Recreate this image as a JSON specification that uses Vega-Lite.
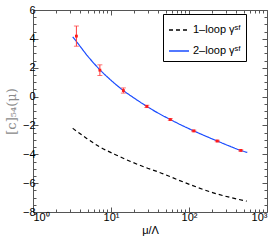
{
  "$schema": "https://vega.github.io/schema/vega-lite/v6.json",
  "width": 234,
  "height": 202,
  "autosize": {"type": "none"},
  "padding": {"left": 33, "top": 10, "right": 11, "bottom": 31},
  "background": "white",
  "config": {
    "view": {"stroke": "#555", "strokeWidth": 1},
    "font": "Liberation Sans",
    "axis": {"domain": false, "grid": false, "labelFont": "Liberation Sans", "labelFontSize": 11, "labelColor": "#000", "tickColor": "#555", "titleFontWeight": "normal"}
  },
  "datasets": {
    "curves": [
      {"series": "1–loop γˢᶠ", "mu": 3.23, "c": -2.20},
      {"series": "1–loop γˢᶠ", "mu": 4.88, "c": -2.90},
      {"series": "1–loop γˢᶠ", "mu": 7.23, "c": -3.50},
      {"series": "1–loop γˢᶠ", "mu": 11.25, "c": -4.01},
      {"series": "1–loop γˢᶠ", "mu": 17.5, "c": -4.48},
      {"series": "1–loop γˢᶠ", "mu": 27.3, "c": -4.90},
      {"series": "1–loop γˢᶠ", "mu": 41.6, "c": -5.25},
      {"series": "1–loop γˢᶠ", "mu": 84.5, "c": -5.92},
      {"series": "1–loop γˢᶠ", "mu": 205, "c": -6.67},
      {"series": "1–loop γˢᶠ", "mu": 550, "c": -7.25},
      {"series": "2–loop γˢᶠ", "mu": 3.23, "c": 4.14},
      {"series": "2–loop γˢᶠ", "mu": 3.6, "c": 3.82},
      {"series": "2–loop γˢᶠ", "mu": 5, "c": 2.82},
      {"series": "2–loop γˢᶠ", "mu": 7.2, "c": 1.86},
      {"series": "2–loop γˢᶠ", "mu": 10, "c": 1.13},
      {"series": "2–loop γˢᶠ", "mu": 14.4, "c": 0.42},
      {"series": "2–loop γˢᶠ", "mu": 20, "c": -0.12},
      {"series": "2–loop γˢᶠ", "mu": 28.8, "c": -0.68},
      {"series": "2–loop γˢᶠ", "mu": 40, "c": -1.14},
      {"series": "2–loop γˢᶠ", "mu": 57.6, "c": -1.59},
      {"series": "2–loop γˢᶠ", "mu": 80, "c": -1.98},
      {"series": "2–loop γˢᶠ", "mu": 115.2, "c": -2.38},
      {"series": "2–loop γˢᶠ", "mu": 160, "c": -2.72},
      {"series": "2–loop γˢᶠ", "mu": 230.4, "c": -3.08},
      {"series": "2–loop γˢᶠ", "mu": 320, "c": -3.40},
      {"series": "2–loop γˢᶠ", "mu": 460.8, "c": -3.73},
      {"series": "2–loop γˢᶠ", "mu": 559, "c": -3.87}
    ],
    "points": [
      {"mu": 3.6, "c": 4.19, "lo": 3.49, "hi": 4.89},
      {"mu": 7.2, "c": 1.83, "lo": 1.46, "hi": 2.20},
      {"mu": 14.4, "c": 0.42, "lo": 0.24, "hi": 0.60},
      {"mu": 28.8, "c": -0.68, "lo": -0.76, "hi": -0.60},
      {"mu": 57.6, "c": -1.59, "lo": -1.65, "hi": -1.53},
      {"mu": 115.2, "c": -2.38, "lo": -2.43, "hi": -2.33},
      {"mu": 230.4, "c": -3.08, "lo": -3.13, "hi": -3.03},
      {"mu": 460.8, "c": -3.73, "lo": -3.78, "hi": -3.68}
    ]
  },
  "resolve": {"axis": {"x": "independent", "y": "independent"}},
  "layer": [
    {
      "data": {"name": "curves"},
      "mark": {"type": "line", "interpolate": "monotone", "strokeWidth": 1.2},
      "encoding": {
        "x": {"field": "mu", "type": "quantitative", "scale": {"type": "log", "domain": [1, 1000], "nice": false},
              "axis": {"orient": "bottom", "values": [1, 10, 100, 1000], "tickSize": -5, "labelPadding": 4, "labelExpr": "'10' + ['⁰','¹','²','³'][round(log(datum.value)/LN10)]", "title": "μ/Λ", "titleFont": "Liberation Sans", "titleFontSize": 11, "titlePadding": 2, "titleColor": "#000"}},
        "y": {"field": "c", "type": "quantitative", "scale": {"domain": [-8, 6], "nice": false, "zero": false},
              "axis": {"orient": "left", "values": [-8, -6, -4, -2, 0, 2, 4, 6], "tickSize": -5, "labelPadding": 3, "title": "[c]₅₄(μ)", "titleFont": "DejaVu Serif", "titleFontSize": 13, "titleColor": "#8a8a8a", "titlePadding": 4}},
        "color": {"field": "series", "type": "nominal", "scale": {"domain": ["1–loop γˢᶠ", "2–loop γˢᶠ"], "range": ["#000000", "#1a4cff"]},
                  "legend": {"title": null, "orient": "none", "legendX": 130, "legendY": 4, "strokeColor": "#000", "fillColor": "#fff", "padding": 5, "symbolType": "stroke", "symbolSize": 400, "symbolStrokeWidth": 1.3, "labelFontSize": 11, "labelFont": "Liberation Sans", "rowPadding": 5, "labelOffset": 3}},
        "strokeDash": {"field": "series", "type": "nominal", "scale": {"domain": ["1–loop γˢᶠ", "2–loop γˢᶠ"], "range": [[4, 3], [1, 0]]}, "legend": null}
      }
    },
    {
      "data": {"name": "points"},
      "mark": {"type": "errorbar", "ticks": {"size": 5}, "color": "#ff3b3b", "thickness": 1},
      "encoding": {
        "x": {"field": "mu", "type": "quantitative", "scale": {"type": "log", "domain": [1, 1000], "nice": false},
              "axis": {"orient": "top", "values": [1, 10, 100, 1000], "tickSize": -5, "labels": false, "title": null}},
        "y": {"field": "lo", "type": "quantitative", "scale": {"domain": [-8, 6], "nice": false, "zero": false},
              "axis": {"orient": "right", "values": [-8, -6, -4, -2, 0, 2, 4, 6], "tickSize": -5, "labels": false, "title": null}},
        "y2": {"field": "hi"}
      }
    },
    {
      "data": {"name": "points"},
      "mark": {"type": "point", "filled": true, "shape": "square", "size": 8, "color": "#ff1a1a", "opacity": 1},
      "encoding": {
        "x": {"field": "mu", "type": "quantitative", "scale": {"type": "log", "domain": [1, 1000], "nice": false},
              "axis": {"orient": "bottom", "values": [2,3,4,5,6,7,8,9,20,30,40,50,60,70,80,90,200,300,400,500,600,700,800,900], "tickSize": -3, "labels": false, "title": null}},
        "y": {"field": "c", "type": "quantitative", "scale": {"domain": [-8, 6], "nice": false, "zero": false},
              "axis": {"orient": "left", "values": [-7.5,-7,-6.5,-5.5,-5,-4.5,-3.5,-3,-2.5,-1.5,-1,-0.5,0.5,1,1.5,2.5,3,3.5,4.5,5,5.5], "tickSize": -3, "labels": false, "title": null}}
      }
    },
    {
      "data": {"name": "points"},
      "mark": {"type": "point", "opacity": 0},
      "encoding": {
        "x": {"field": "mu", "type": "quantitative", "scale": {"type": "log", "domain": [1, 1000], "nice": false},
              "axis": {"orient": "top", "values": [2,3,4,5,6,7,8,9,20,30,40,50,60,70,80,90,200,300,400,500,600,700,800,900], "tickSize": -3, "labels": false, "title": null}},
        "y": {"field": "c", "type": "quantitative", "scale": {"domain": [-8, 6], "nice": false, "zero": false},
              "axis": {"orient": "right", "values": [-7.5,-7,-6.5,-5.5,-5,-4.5,-3.5,-3,-2.5,-1.5,-1,-0.5,0.5,1,1.5,2.5,3,3.5,4.5,5,5.5], "tickSize": -3, "labels": false, "title": null}}
      }
    }
  ]
}
